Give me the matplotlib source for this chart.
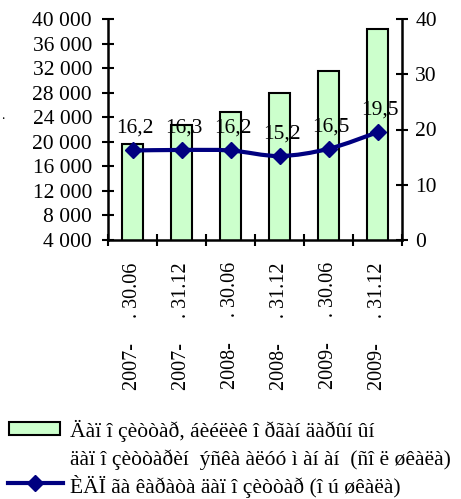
import matplotlib
matplotlib.use("Agg")
import matplotlib.pyplot as plt
from matplotlib.path import Path
from matplotlib.patches import PathPatch, Rectangle
from matplotlib.lines import Line2D
import numpy as np

plt.rcParams['font.family'] = ['Liberation Serif', 'DejaVu Serif']

# data
dates = ["2007-     . 30.06", "2007-     . 31.12", "2008-     . 30.06",
         "2008-     . 31.12", "2009-     . 30.06", "2009-     . 31.12"]
deposits = [19600, 22800, 24900, 28000, 31500, 38400]
ratio = [16.2, 16.3, 16.2, 15.2, 16.5, 19.5]
ratio_labels = ["16,2", "16,3", "16,2", "15,2", "16,5", "19,5"]
legend_bar = ["Äàï î çèòòàð, áèéëèê î ðãàí äàðûí ûí",
              "äàï î çèòòàðèí  ýñêà àëóó ì àí àí  (ñî ë øêàëà)"]
legend_line = "ÈÄÏ ãà êàðàòà äàï î çèòòàð (î ú øêàëà)"

green = "#CCFFCC"
navy = "#000080"
W, H = 461, 499
fs = 15.5

fig = plt.figure(figsize=(W / 100, H / 100), dpi=100)
ax = fig.add_axes([108 / W, 1 - 240 / H, 294 / W, 221 / H])
ax2 = ax.twinx()

x = np.arange(len(dates))
ax.bar(x, deposits, width=0.41, color=green, edgecolor="black", linewidth=1.5, zorder=2)
ax.set_xlim(-0.5, len(dates) - 0.5)
ax.set_ylim(4000, 40000)
ax.set_yticks(np.arange(4000, 40001, 4000))
ax.set_yticklabels([f"{v:,}".replace(",", " ") for v in range(4000, 40001, 4000)])

# category boundaries as major ticks, labels on minor ticks
ax.set_xticks(np.arange(-0.5, len(dates), 1.0))
ax.set_xticklabels([])
ax.set_xticks(x, minor=True)
ax.set_xticklabels(dates, minor=True, rotation=90, va="top", ha="center")
ax.tick_params(axis="x", which="minor", length=0, pad=16, labelsize=14.5)
ax.tick_params(axis="x", which="major", direction="inout", length=9, width=1.5)
ax.tick_params(axis="y", direction="inout", length=9, width=1.5, labelsize=fs, pad=7)

for s in ["top", "right"]:
    ax.spines[s].set_visible(False)
for s in ["top", "left", "bottom"]:
    ax2.spines[s].set_visible(False)
for s in ["left", "bottom"]:
    ax.spines[s].set_linewidth(1.8)
ax2.spines["right"].set_linewidth(1.8)

ax2.set_ylim(0, 40)
ax2.set_yticks([0, 10, 20, 30, 40])
ax2.tick_params(axis="y", direction="inout", length=9, width=1.5, labelsize=fs, pad=5)

# smoothed line (Excel style bezier through the points)
pts = np.column_stack([x, ratio]).astype(float)
verts = [pts[0]]
codes = [Path.MOVETO]
n = len(pts)
for i in range(n - 1):
    p0 = pts[i - 1] if i > 0 else pts[i]
    p1, p2 = pts[i], pts[i + 1]
    p3 = pts[i + 2] if i + 2 < n else pts[i + 1]
    verts += [p1 + (p2 - p0) / 6, p2 - (p3 - p1) / 6, p2]
    codes += [Path.CURVE4] * 3
ax2.add_patch(PathPatch(Path(verts, codes), fc="none", ec=navy, lw=3, zorder=3))
ax2.plot(x, ratio, ls="none", marker="D", ms=8, color=navy, zorder=4)

for xi, yi, lab in zip(x, ratio, ratio_labels):
    ax2.annotate(lab, (xi, yi), xytext=(2, 16), textcoords="offset points",
                 ha="center", va="center", fontsize=fs)

# legend at the bottom
fig.add_artist(Rectangle((9 / W, 1 - 435 / H), 51 / W, 13 / H, transform=fig.transFigure,
                         fc=green, ec="black", lw=1.5))
fig.add_artist(Line2D([8 / W, 63 / W], [1 - 483 / H] * 2, transform=fig.transFigure,
                      color=navy, lw=3))
fig.add_artist(Line2D([35 / W], [1 - 483 / H], transform=fig.transFigure,
                      color=navy, marker="D", ms=8, ls="none"))
fig.text(70 / W, 1 - 437 / H, legend_bar[0], fontsize=fs, va="baseline")
fig.text(70 / W, 1 - 465 / H, legend_bar[1], fontsize=fs, va="baseline")
fig.text(70 / W, 1 - 493 / H, legend_line, fontsize=fs, va="baseline")
fig.text(1 / W, 1 - 119 / H, ".", fontsize=10)

fig.savefig("out.png", dpi=100)
